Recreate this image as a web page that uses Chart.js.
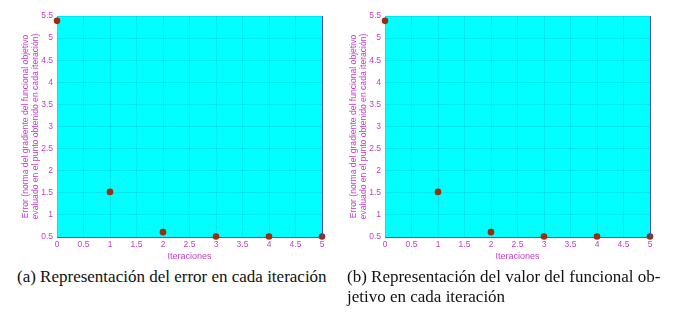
<!DOCTYPE html>
<html>
<head>
<meta charset="utf-8">
<script src="https://cdn.jsdelivr.net/npm/chart.js@4"></script>
<style>
	body { margin: 0; background: #fff; width: 675px; height: 316px; overflow: hidden; position: relative; }
	.plot { position: absolute; top: 0; width: 330px; height: 262px; }
	#chart-error { left: 0; }
	#chart-funcional { left: 328px; }
	.caption { position: absolute; font-family: "Liberation Serif", "DejaVu Serif", serif; font-size: 17px; color: #111; line-height: 20px; white-space: nowrap; }
	#cap-a { left: 17px; top: 267px; }
	#cap-b { left: 347px; top: 267px; }
</style>
</head>
<body>
<div class="plot" id="chart-error"><canvas id="canvas-error"></canvas></div>
<div class="plot" id="chart-funcional"><canvas id="canvas-funcional"></canvas></div>
<div class="caption" id="cap-a">(a) Representación del error en cada iteración</div>
<div class="caption" id="cap-b">(b) Representación del valor del funcional ob-<br>jetivo en cada iteración</div>

<script>
// Data
const ITERATIONS = [0, 1, 2, 3, 4, 5];
const ERROR_VALUES = [5.39, 1.52, 0.61, 0.51, 0.51, 0.51];
const FUNCTIONAL_VALUES = [5.39, 1.52, 0.61, 0.51, 0.51, 0.51];
const Y_TITLE = [
	"Error (norma del gradiente del funcional objetivo",
	"evaluado en el punto obtenido en cada iteración)",
];
const X_TITLE = "Iteraciones";

const TEXT_COLOR = "#c23cc8";
const GRID_COLOR = "rgba(0, 110, 170, 0.16)";
const POINT_COLOR = "#9a2f0c";

// paint cyan plot box + blue right edge
const plotBox = {
	id: "plotBox",
	beforeDraw(chart) {
		const { ctx, chartArea: a } = chart;
		ctx.save();
		ctx.fillStyle = "#00ffff";
		ctx.fillRect(a.left, a.top, a.right - a.left, a.bottom - a.top);
		ctx.restore();
	},
	afterDatasetsDraw(chart) {
		const { ctx, chartArea: a } = chart;
		ctx.save();
		ctx.strokeStyle = "#4a4ad0";
		ctx.lineWidth = 1;
		ctx.beginPath();
		ctx.moveTo(a.right + 0.5, a.top);
		ctx.lineTo(a.right + 0.5, a.bottom);
		ctx.stroke();
		ctx.restore();
	},
};

// "1", "1.5", "2" like the original axes
const plainTick = (value) => String(Math.round(value * 10) / 10);

const makeChart = (canvasId, values) => {
	const points = ITERATIONS.map((x, i) => ({ x: x, y: values[i] }));
	return new Chart(document.getElementById(canvasId), {
		type: "scatter",
		data: {
			datasets: [
				{
					data: points,
					pointRadius: 3.3,
					pointBackgroundColor: POINT_COLOR,
					pointBorderColor: POINT_COLOR,
					pointBorderWidth: 0,
					clip: false,
				},
			],
		},
		options: {
			animation: false,
			responsive: true,
			maintainAspectRatio: false,
			layout: { padding: { top: 16, right: 8, left: 0, bottom: 0 } },
			scales: {
				x: {
					type: "linear",
					min: 0,
					max: 5,
					afterFit: (scale) => { scale.height = 25; },
					border: { display: true, color: "#4a4ad0" },
					grid: { color: GRID_COLOR, drawTicks: false },
					ticks: { stepSize: 0.5, color: TEXT_COLOR, font: { family: "Liberation Sans", size: 8.5 }, padding: 3, maxRotation: 0, callback: plainTick },
					title: { display: true, text: X_TITLE, color: TEXT_COLOR, font: { family: "Liberation Sans", size: 9 }, padding: 0 },
				},
				y: {
					min: 0.5,
					max: 5.5,
					afterFit: (scale) => { scale.width = 57; },
					border: { display: false },
					grid: { color: GRID_COLOR, drawTicks: false },
					ticks: { stepSize: 0.5, color: TEXT_COLOR, font: { family: "Liberation Sans", size: 8.5 }, padding: 4, callback: plainTick },
					title: { display: true, text: Y_TITLE, color: TEXT_COLOR, font: { family: "Liberation Sans", size: 8.6, lineHeight: 1.2 }, padding: { top: 20, bottom: 0 } },
				},
			},
			plugins: {
				legend: { display: false },
				tooltip: { enabled: false },
			},
		},
		plugins: [plotBox],
	});
};

makeChart("canvas-error", ERROR_VALUES);
makeChart("canvas-funcional", FUNCTIONAL_VALUES);
</script>
</body>
</html>
